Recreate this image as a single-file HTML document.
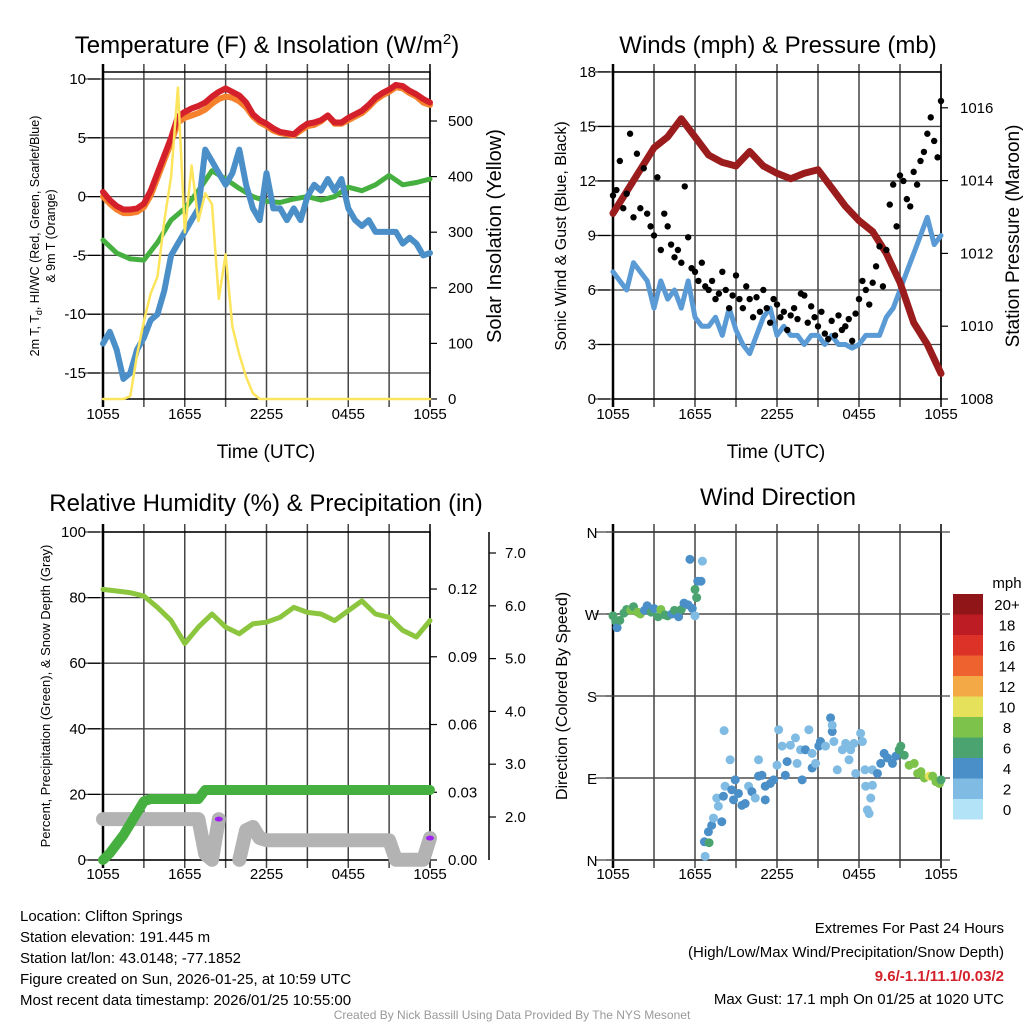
<!DOCTYPE html>
<html><head><meta charset="utf-8"><style>
html,body{margin:0;padding:0;background:#fff;}
svg{display:block;font-family:"Liberation Sans",Arial,sans-serif;}
</style></head><body>
<svg id="svg" width="1024" height="1024" viewBox="0 0 1024 1024" xmlns="http://www.w3.org/2000/svg">
<g id="g1"></g>
<g id="g2"></g>
<g id="g3"></g>
<g id="g4"></g>
<text x="267" y="53" font-size="24" text-anchor="middle">Temperature (F) &amp; Insolation (W/m<tspan font-size="15" dy="-9">2</tspan><tspan dy="9">)</tspan></text>
<text x="778" y="53" font-size="24" text-anchor="middle">Winds (mph) &amp; Pressure (mb)</text>
<text x="266" y="511" font-size="24" text-anchor="middle">Relative Humidity (%) &amp; Precipitation (in)</text>
<text x="778" y="505" font-size="24" text-anchor="middle">Wind Direction</text>
<text x="266" y="458" font-size="19" text-anchor="middle">Time (UTC)</text>
<text x="776" y="458" font-size="19" text-anchor="middle">Time (UTC)</text>
<text transform="translate(39,236) rotate(-90)" font-size="12.5" text-anchor="middle">2m T, T<tspan font-size="9" dy="3">d</tspan><tspan dy="-3">, HI/WC (Red, Green, Scarlet/Blue)</tspan></text>
<text transform="translate(55,236) rotate(-90)" font-size="12.5" text-anchor="middle">&amp; 9m T (Orange)</text>
<text transform="translate(501,236) rotate(-90)" font-size="20" text-anchor="middle">Solar Insolation (Yellow)</text>
<text transform="translate(566,236) rotate(-90)" font-size="16" text-anchor="middle">Sonic Wind &amp; Gust (Blue, Black)</text>
<text transform="translate(1019,236) rotate(-90)" font-size="19" text-anchor="middle">Station Pressure (Maroon)</text>
<text transform="translate(50,696) rotate(-90)" font-size="13" text-anchor="middle">Percent, Precipitation (Green), &amp; Snow Depth (Gray)</text>
<text transform="translate(567,696) rotate(-90)" font-size="16" text-anchor="middle">Direction (Colored By Speed)</text>
<g font-size="15">
<text x="20" y="921">Location: Clifton Springs</text>
<text x="20" y="942">Station elevation: 191.445 m</text>
<text x="20" y="963">Station lat/lon: 43.0148; -77.1852</text>
<text x="20" y="984">Figure created on Sun, 2026-01-25, at 10:59 UTC</text>
<text x="20" y="1005">Most recent data timestamp: 2026/01/25 10:55:00</text>
</g>
<g font-size="15" text-anchor="end">
<text x="1004" y="933">Extremes For Past 24 Hours</text>
<text x="1004" y="957">(High/Low/Max Wind/Precipitation/Snow Depth)</text>
<text x="1004" y="981" fill="#d4202a" font-weight="bold">9.6/-1.1/11.1/0.03/2</text>
<text x="1004" y="1004">Max Gust: 17.1 mph On 01/25 at 1020 UTC</text>
</g>
<text x="512" y="1019" font-size="12" fill="#999" text-anchor="middle">Created By Nick Bassill Using Data Provided By The NYS Mesonet</text>
</svg>
<script>
// ---------- data ----------
const timeLabels = ["1055","1655","2255","0455","1055"];
const tempTicks = [10,5,0,-5,-10,-15];
const solarTicks = [0,100,200,300,400,500];
const windTicks = [0,3,6,9,12,15,18];
const presTicks = [1008,1010,1012,1014,1016];
const rhTicks = [0,20,40,60,80,100];
const precipTicks = [0,0.03,0.06,0.09,0.12];
const precipTickLabels = ["0.00","0.03","0.06","0.09","0.12"];
const snowTicks = [2,3,4,5,6,7];
const dirTicks = [0,90,180,270,360];
const dirLabels = ["N","E","S","W","N"];
// half-hourly series (49 values, 0..24 h)
const tempRed = [0.4,-0.3,-0.8,-1.1,-1.1,-1.0,-0.6,0.5,2.0,3.5,5.0,6.8,7.2,7.5,7.7,8.0,8.5,8.9,9.2,8.9,8.6,8.0,7.0,6.5,6.2,5.8,5.5,5.4,5.3,5.8,6.2,6.3,6.5,6.9,6.3,6.3,6.7,7.0,7.3,7.8,8.4,8.8,9.1,9.5,9.4,9.0,8.7,8.3,8.0];
const tempOrange = [0.0,-0.6,-1.1,-1.4,-1.4,-1.3,-0.9,0.1,1.6,3.1,4.6,6.3,6.7,6.9,7.1,7.4,7.9,8.3,8.5,8.4,8.1,7.6,6.8,6.3,6.0,5.6,5.4,5.3,5.2,5.6,6.0,6.1,6.4,6.9,6.2,6.2,6.5,6.8,7.1,7.6,8.2,8.6,8.9,9.3,9.2,8.8,8.5,8.0,7.8];
const windChill = [-12.5,-11.5,-13,-15.5,-15,-13,-12,-10.5,-10,-8,-5,-4,-3,-2,-1,4,3,2,1,2,4,1,-1,-2,2,-1,-1,-2,-1,-2,0,1,0.5,1.5,0.5,1.5,-1,-2,-2.5,-2,-3,-3,-3,-3,-4,-3.5,-4,-5,-4.8];
const solar = [0,0,0,0,5,80,140,190,220,320,400,560,300,420,320,370,350,180,260,130,80,40,10,0,0,0,0,0,0,0,0,0,0,0,0,0,0,0,0,0,0,0,0,0,0,0,0,0,0];
const windSpeed = [7,6.5,6,7.5,7,6.5,5,6.5,5.5,6,5,6.5,4.5,4,4,4.5,3.5,5,3.8,3,2.5,3.5,4.5,5,3.5,4,3.5,3.5,3,3.5,3.5,3,3.5,3,3,2.8,3,3.5,3.5,3.5,4.5,5,6,7,8,9,10,8.5,9];
// hourly series (25 values)
const dewpoint = [-3.7,-4.8,-5.3,-5.4,-3.9,-2,-1,0.5,2.2,1.5,0.7,0,-0.4,-0.5,-0.2,0,-0.3,0,0.8,0.5,1.0,1.8,1.0,1.2,1.5];
const pressure = [1013.1,1013.7,1014.3,1014.9,1015.2,1015.7,1015.2,1014.7,1014.5,1014.4,1014.8,1014.4,1014.2,1014.05,1014.2,1014.3,1013.8,1013.3,1012.9,1012.6,1012.0,1011.2,1010.1,1009.5,1008.7];
const rh = [82.5,82,81.5,80.5,77,73,66,71,75,71,69,72,72.5,74,77,75.5,75,73,76,79,75,74,70,68,73];
// 15-minute gusts (97 values)
const gust = [11.2,11.5,13.1,10.5,11.3,14.6,10,13.5,10.5,12.7,10.2,9.5,9,12.2,8.2,10.2,9.5,8.5,7.8,8.2,7.5,11.7,8.9,7.2,7,6.5,7.5,6.2,6,6.5,5.5,5.8,7,6,5,5.7,6.8,5.5,5,6.2,5.5,4.5,5.6,4.8,6,5,4.2,5.5,5.2,4.5,4.8,3.8,4.6,5,4.4,5.8,5.7,4.2,5.1,4.5,4,4.8,3.6,3.3,4.3,3.5,4.6,3.8,4,4.4,3.2,4.7,5.5,6.5,6,5.2,6.4,7.3,8.4,6.2,8.2,10.7,11.8,9.5,12.3,12,11,10.6,12.5,11.8,13.1,13.6,14.6,15.5,14.2,13.3,16.4];
// half-hourly precipitation (in) and snow depth (in)
const precip = [0,0.003,0.007,0.011,0.016,0.021,0.026,0.027,0.027,0.027,0.027,0.027,0.027,0.027,0.027,0.031,0.031,0.031,0.031,0.031,0.031,0.031,0.031,0.031,0.031,0.031,0.031,0.031,0.031,0.031,0.031,0.031,0.031,0.031,0.031,0.031,0.031,0.031,0.031,0.031,0.031,0.031,0.031,0.031,0.031,0.031,0.031,0.031,0.031];
const snow = [1.96,1.96,1.96,1.96,1.96,1.96,1.96,1.96,1.96,1.96,1.96,1.96,1.96,1.96,1.96,1.3,1.19,1.96,null,null,1.19,1.75,1.81,1.6,1.56,1.56,1.56,1.56,1.56,1.56,1.56,1.56,1.56,1.56,1.56,1.56,1.56,1.56,1.56,1.56,1.56,1.56,1.56,1.19,1.19,1.19,1.19,1.19,1.6];
// wind direction scatter
const dirHours = [0,0.2,0.3,0.5,0.8,1,1.3,1.5,1.8,2,2.3,2.5,2.8,3,3.3,3.5,3.8,4,4.3,4.5,4.8,5,5.2,5.5,5.8,6,5.63,6.0,6.12,6.2,6.44,6.54,6.69,6.74,6.98,7.03,7.22,7.35,7.59,7.71,7.96,8.08,8.13,8.2,8.57,8.69,8.82,8.94,9.18,9.43,9.67,9.92,10.16,10.41,10.65,10.65,10.9,11.14,11.14,11.51,11.76,12.0,12.12,12.37,12.61,12.74,12.98,13.35,13.47,13.72,13.84,14.08,14.33,14.57,14.57,14.82,15.06,15.18,15.55,15.92,16.04,16.04,16.16,16.41,16.78,17.02,17.27,17.39,17.63,17.76,18.12,18.25,18.44,18.49,18.61,18.74,18.86,18.98,18.98,19.35,19.59,19.84,20.08,20.45,20.7,20.94,21.06,21.31,21.67,22.04,22.29,22.53,22.78,23.14,23.39,23.63,23.88,24];
const dirDegrees = [268,262,255,263,271,275,274,278,272,270,274,279,272,276,267,275,269,268,270,274,267,275,282,280,276,268,330,297,288,306,306,328,20,4,31,19,38,46,68,59,42,70,142,81,110,77,66,88,73,60,62,81,75,68,92,110,93,81,66,84,88,104,143,125,93,108,126,134,106,121,88,121,143,101,117,106,125,130,125,156,141,148,130,99,121,128,110,121,128,95,139,130,99,81,55,51,68,99,82,95,106,117,112,106,114,121,125,115,104,106,95,97,90,92,92,86,84,88];
const dirSpeeds = [7,6,4,6,6,7,8,6,8,8,4,4,6,4,6,8,6,6,4,6,4,6,4,4,4,2,4,6,6,4,4,2,4,2,4,6,4,2,2,2,4,4,2,2,2,4,4,4,4,4,4,2,4,2,4,2,4,4,4,4,4,2,2,2,4,4,2,2,2,2,4,4,2,4,2,2,4,4,2,4,4,2,2,2,2,2,2,2,2,2,2,2,2,2,2,2,2,2,2,4,4,4,4,4,4,6,6,6,8,8,8,8,8,10,8,8,8,6];
const cbarLabels = ["20+","18","16","14","12","10","8","6","4","2","0"];
const cbarColors = ["#8f1519","#bd1c24","#dc3228","#ee622f","#f4a947","#e6e15a","#7dc24a","#4ba470","#4a8fc7","#7fbbe3","#b3e3f7"];

// ---------- helpers ----------
const NS="http://www.w3.org/2000/svg";
function mk(parent,tag,attrs,text){const e=document.createElementNS(NS,tag);for(const k in attrs)e.setAttribute(k,attrs[k]);if(text!==undefined)e.textContent=text;parent.appendChild(e);return e;}
const xL=h=>103+h*(327/24);
const xR=h=>613+h*(328/24);
const yT=v=>79+(10-v)*11.76;
const ySol=v=>399-v*0.556;
const yW=v=>399-v*18.17;
const yP=v=>399-(v-1008)*36.4;
const yRH=v=>860-v*3.28;
const yPr=v=>860-v*2258;
const ySn=v=>817-(v-2)*52.8;
const yD=d=>860-d*(328/360);
function pathFrom(vals,step,xf,yf){let d="",pen=false;vals.forEach((v,i)=>{if(v===null){pen=false;return;}d+=(pen?"L":"M")+xf(i*step).toFixed(1)+","+yf(v).toFixed(1);pen=true;});return d;}
function frame(g,x0,x1,y0,y1,xf,hgrid,name){
  for(let h=3;h<24;h+=3){const l=mk(g,"line",{x1:xf(h),x2:xf(h),y1:y0-8,y2:y1+8,stroke:"#444","stroke-width":1.5});
  
  }
  hgrid.forEach(y=>{const l=mk(g,"line",{x1:x0-18,x2:x1,y1:y,y2:y,stroke:"#444","stroke-width":1.3});
  
  });
  const r=mk(g,"rect",{x:x0,y:y0,width:x1-x0,height:y1-y0,fill:"none",stroke:"#000","stroke-width":1.5});
  
  
  mk(g,"line",{x1:x0,x2:x0,y1:y0-8,y2:y1+8,stroke:"#000","stroke-width":2.5});
  mk(g,"line",{x1:x1,x2:x1,y1:y0-8,y2:y1+8,stroke:"#000","stroke-width":1.5});
}
function xlabels(g,xf,y,name){timeLabels.forEach((t,i)=>{const e=mk(g,"text",{x:xf(i*6),y:y,"font-size":15,"text-anchor":"middle"},t);
  
  });}
function ylabels(g,ticks,yf,x,anchor,name,labels,axisX){ticks.forEach((t,i)=>{const e=mk(g,"text",{x:x,y:yf(t)+5,"font-size":15,"text-anchor":anchor},labels?labels[i]:String(t));
  
  
  if(anchor==="end") mk(g,"line",{x1:x+2,x2:x+14,y1:yf(t),y2:yf(t),stroke:"#000","stroke-width":1.2});
  else mk(g,"line",{x1:axisX,x2:axisX+7,y1:yf(t),y2:yf(t),stroke:"#000","stroke-width":1.2});});}
function series(g,d,color,w,name){const p=mk(g,"path",{d:d,fill:"none",stroke:color,"stroke-width":w,"stroke-linejoin":"round","stroke-linecap":"round"});
  
  return p;}

// ---------- panel 1 ----------
const g1=document.getElementById("g1");
frame(g1,103,430,72,399,xL,tempTicks.map(yT),"temp");
ylabels(g1,tempTicks,yT,86,"end","temp-y");
ylabels(g1,solarTicks,ySol,448,"start","solar-y",null,430);
xlabels(g1,xL,419,"temp");
series(g1,pathFrom(dewpoint,1,xL,yT),"#45b03f",5,"dewpoint-line");
series(g1,pathFrom(windChill,0.5,xL,yT),"#4b8fc9",6,"wind-chill-line");
series(g1,pathFrom(tempOrange,0.5,xL,yT),"#f5812c",6,"temp-9m-line");
series(g1,pathFrom(tempRed,0.5,xL,yT),"#d4202a",6,"temp-2m-line");
series(g1,pathFrom(solar,0.5,xL,ySol),"#fce45c",2.5,"solar-line");

// ---------- panel 2 ----------
const g2=document.getElementById("g2");
frame(g2,613,941,72,399,xR,windTicks.map(yW),"wind");
ylabels(g2,windTicks,yW,596,"end","wind-y");
ylabels(g2,presTicks,yP,960,"start","pressure-y",null,941);
xlabels(g2,xR,419,"wind");
series(g2,pathFrom(windSpeed,0.5,xR,yW),"#5b9bd5",5,"wind-speed-line");
series(g2,pathFrom(pressure,1,xR,yP),"#9b1c1c",7,"pressure-line");
gust.forEach((v,i)=>{const c=mk(g2,"circle",{cx:xR(i*0.25),cy:yW(v),r:3.2,fill:"#000"});
  
  });

// ---------- panel 3 ----------
const g3=document.getElementById("g3");
frame(g3,103,430,532,860,xL,rhTicks.map(yRH),"rh");
ylabels(g3,rhTicks,yRH,86,"end","rh-y");
ylabels(g3,precipTicks,yPr,448,"start","precip-y",precipTickLabels,430);
xlabels(g3,xL,879,"rh");
const sa=mk(g3,"line",{x1:489,x2:489,y1:532,y2:860,stroke:"#000","stroke-width":1.5});


snowTicks.forEach(t=>{mk(g3,"line",{x1:489,x2:496,y1:ySn(t),y2:ySn(t),stroke:"#000","stroke-width":1.2});
  const e=mk(g3,"text",{x:505,y:ySn(t)+5,"font-size":15},t.toFixed(1));
  
  });
series(g3,pathFrom(snow,0.5,xL,ySn),"#b3b3b3",14,"snow-depth-line");
series(g3,pathFrom(precip,0.5,xL,yPr),"#45b03f",10,"precip-line");
series(g3,pathFrom(rh,1,xL,yRH),"#8cc63f",5,"rh-line");
[[8.5,snow[17]],[24,snow[48]]].forEach(p=>{const c=mk(g3,"ellipse",{cx:xL(p[0]),cy:ySn(p[1]),rx:4,ry:2.5,fill:"#a020f0"});
  
  });

// ---------- panel 4 ----------
const g4=document.getElementById("g4");
frame(g4,613,941,532,860,xR,dirTicks.map(yD),"dir");
dirTicks.forEach((t,i)=>{const e=mk(g4,"text",{x:592,y:yD(t)+6,"font-size":15,"text-anchor":"middle"},dirLabels[i]);
  
  
  mk(g4,"line",{x1:606,x2:950,y1:yD(t),y2:yD(t),stroke:"#444","stroke-width":1.3});});
xlabels(g4,xR,879,"dir");
dirHours.forEach((h,i)=>{const s=dirSpeeds[i];const bin=Math.min(10,Math.floor(s/2));
  const c=mk(g4,"circle",{cx:xR(h),cy:yD(dirDegrees[i]),r:4.5,fill:cbarColors[10-bin]});
  
  });
const cb=mk(g4,"g",{});


cbarColors.forEach((c,i)=>{mk(cb,"rect",{x:953,y:594+i*20.5,width:30,height:20.5,fill:c});
  const e=mk(cb,"text",{x:1007,y:610+i*20.5,"font-size":15,"text-anchor":"middle"},cbarLabels[i]);
  
  });
const mph=mk(g4,"text",{x:1007,y:588,"font-size":15,"text-anchor":"middle"},"mph");


</script>
</body></html>
